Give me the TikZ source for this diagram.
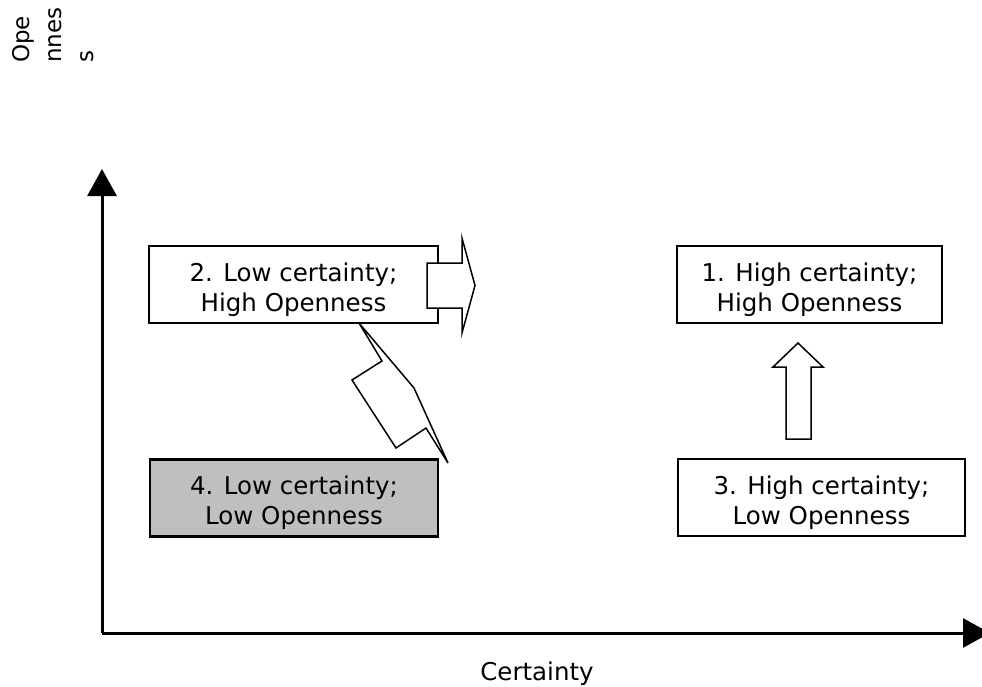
\documentclass[tikz,border=0pt]{standalone}
\usepackage{fontspec}
\setmainfont{DejaVu Sans}
\usetikzlibrary{arrows.meta}
\newcommand{\qstrut}{\rule{0pt}{29pt}}
\tikzset{
  quadrant/.style={draw, line width=1.6pt, fill=white, align=center, inner sep=0pt,
    minimum height=77pt, font=\fontsize{24.5}{30}\selectfont},
  axis/.style={line width=3pt, -{Triangle[width=29pt,length=27pt]}},
  blockarrow/.style={draw, line width=1.5pt, fill=white, line join=miter},
}

\begin{document}
\begin{tikzpicture}[x=1pt,y=-1pt]
      \useasboundingbox (0,0) rectangle (982,686);
      % axes
      \coordinate (origin) at (102,633);
      \coordinate (ytip) at (102,169);
      \coordinate (xtip) at (990,633);
      \draw [axis] (origin) -- (ytip);
      \draw [axis] (origin) -- (xtip);
      \node (ylab) [anchor=north west, rotate=90, align=left, inner sep=0pt,
        font=\fontsize{23}{32}\selectfont] at (12,63) {Ope\\nnes\\s};
      \node (xlab) [anchor=base, font=\fontsize{24.5}{30}\selectfont] at (537,680) {Certainty};
      % quadrants
      \node (q2) [quadrant, minimum width=289pt] at (293.5,284.5) {\qstrut 2. Low certainty;\\High Openness};
      \node (q1) [quadrant, minimum width=265pt] at (809.5,284.5) {\qstrut 1. High certainty;\\High Openness};
      \node (q4) [quadrant, minimum width=288pt, fill=black!25, line width=2.5pt] at (294,498) {\qstrut 4. Low certainty;\\Low Openness};
      \node (q3) [quadrant, minimum width=287pt] at (821.5,497.5) {\qstrut 3. High certainty;\\Low Openness};
      % block arrows
      \draw [blockarrow] (427,263) -- (462,263) -- (462,238) -- (475,285.5) -- (462,333) -- (462,308) -- (427,308) -- cycle;
      \draw [blockarrow] (786,439) -- (786,367) -- (773,367) -- (798,343) -- (823,367) -- (811,367) -- (811,439) -- cycle;
      \draw [blockarrow] (359,323) -- (382,361) -- (352,380) -- (396,448) -- (426,428) -- (448,463) -- (414,388) -- cycle;
\end{tikzpicture}
\end{document}
